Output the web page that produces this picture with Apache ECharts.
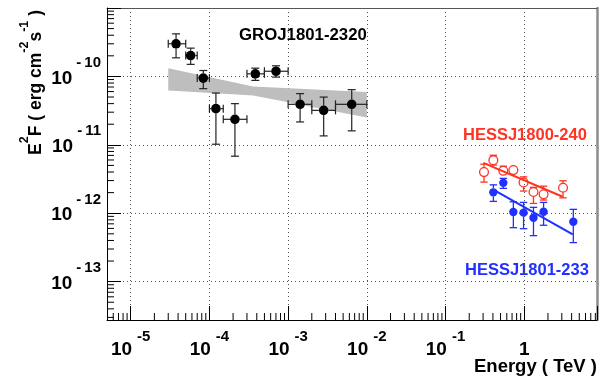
<!DOCTYPE html>
<html>
<head>
<meta charset="utf-8">
<script src="https://cdn.jsdelivr.net/npm/echarts@6/dist/echarts.min.js"></script>
<style>
  html, body { margin: 0; padding: 0; background: #fff; }
  #chart { width: 615px; height: 384px; }
</style>
</head>
<body>
<div id="chart"></div>
<script>
// ---- GRO J1801-2320 (EGRET), energies in TeV, E^2 F in erg cm^-2 s^-1 ----
const groE   = [3.77e-5, 5.78e-5, 8.36e-5, 1.21e-4, 2.11e-4, 3.83e-4, 7.02e-4, 1.42e-3, 2.83e-3, 6.43e-3];
const groElo = [3e-5, 5e-5, 7e-5, 1e-4, 1.5e-4, 3e-4, 5e-4, 1e-3, 2e-3, 4e-3];
const groEhi = [5e-5, 7e-5, 1e-4, 1.5e-4, 3e-4, 5e-4, 1e-3, 2e-3, 4e-3, 1e-2];
const groF   = [3.0e-10, 2.02e-10, 9.44e-11, 3.38e-11, 2.36e-11, 1.09e-10, 1.19e-10, 3.91e-11, 3.19e-11, 3.91e-11];
const groFlo = [1.87e-10, 1.50e-10, 6.62e-11, 1.02e-11, 6.82e-12, 8.75e-11, 9.77e-11, 2.16e-11, 1.35e-11, 1.60e-11];
const groFhi = [4.19e-10, 2.59e-10, 1.22e-10, 5.71e-11, 4.00e-11, 1.32e-10, 1.43e-10, 5.60e-11, 4.99e-11, 6.40e-11];

// power-law fit butterfly for the EGRET source
const bandE     = [3e-5, 3.6e-4, 1e-2];
const bandUpper = [1.32e-10, 7.14e-11, 5.9e-11];
const bandLower = [6.25e-11, 5.28e-11, 2.5e-11];

// ---- HESS J1800-240 ----
const h240E   = [0.308, 0.405, 0.542, 0.727, 0.98, 1.31, 1.76, 3.11];
const h240F   = [3.99e-12, 5.97e-12, 4.17e-12, 4.27e-12, 2.82e-12, 2.04e-12, 1.89e-12, 2.36e-12];
const h240Flo = [2.85e-12, 5.05e-12, 3.61e-12, 3.73e-12, 2.11e-12, 1.39e-12, 1.56e-12, 1.68e-12];
const h240Fhi = [5.21e-12, 7.05e-12, 4.88e-12, 4.88e-12, 3.40e-12, 2.39e-12, 2.49e-12, 2.98e-12];
const h240FitE = [0.302, 3.08];
const h240FitF = [5.45e-12, 1.74e-12];

// ---- HESS J1801-233 ----
const h233E   = [0.405, 0.542, 0.727, 0.98, 1.31, 1.76, 4.2];
const h233F   = [2.02e-12, 2.78e-12, 1.04e-12, 1.02e-12, 8.59e-13, 1.05e-12, 7.51e-13];
const h233Flo = [1.49e-12, 2.31e-12, 6.15e-13, 5.94e-13, 4.70e-13, 6.67e-13, 3.72e-13];
const h233Fhi = [2.60e-12, 3.23e-12, 1.47e-12, 1.44e-12, 1.22e-12, 1.44e-12, 1.14e-12];
const h233FitE = [0.414, 4.13];
const h233FitF = [2.18e-12, 4.92e-13];

// labelled decades
const xTickExp = [-5, -4, -3, -2, -1, 0];
const yTickExp = [-13, -12, -11, -10];

const X_MIN = 5e-6, X_MAX = 8.4, Y_MIN = 2.75e-14, Y_MAX = 1e-9;

const FONT = 'Liberation Sans, Arial, Helvetica, sans-serif';
const RED = '#ff3322';
const BLUE = '#1f30ff';

function decadeExp(v) {
  const l = Math.log10(v);
  const e = Math.round(l);
  return Math.abs(l - e) < 1e-6 ? e : null;
}

// bottom axis: 10 with a plain superscript exponent
function xLabel(v) {
  const e = decadeExp(v);
  if (e === null || xTickExp.indexOf(e) < 0) return '';
  return e === 0 ? '{b|1}' : '{b|10}{s|' + e + '}';
}

// left axis: the minus of the exponent sits a little apart from its digits
function yLabel(v) {
  const e = decadeExp(v);
  if (e === null || yTickExp.indexOf(e) < 0) return '';
  return '{b|10}{m|-}{s|' + Math.abs(e) + '}';
}

const xRich = {
  b: { fontFamily: FONT, fontWeight: 'bold', fontSize: 19, lineHeight: 42, color: '#000' },
  s: { fontFamily: FONT, fontWeight: 'bold', fontSize: 15, lineHeight: 15, padding: [0, 0, 27, 5], color: '#000' }
};
const yRich = {
  b: { fontFamily: FONT, fontWeight: 'bold', fontSize: 19, lineHeight: 42, padding: [4, 0, 0, 0], color: '#000' },
  m: { fontFamily: FONT, fontWeight: 'bold', fontSize: 15, lineHeight: 15, padding: [0, 3, 27, 4], color: '#000' },
  s: { fontFamily: FONT, fontWeight: 'bold', fontSize: 15, lineHeight: 15, padding: [0, 0, 27, 0], color: '#000' }
};

// minor tick positions (2..9 times each decade) inside the axis ranges
function minorTicks(lo, hi, n0, n1) {
  const out = [];
  for (let n = n0; n <= n1; n++) {
    for (let k = 2; k <= 9; k++) {
      const v = k * Math.pow(10, n);
      if (v > lo && v < hi) out.push(v);
    }
  }
  return out;
}
const xMinor = minorTicks(X_MIN, X_MAX, -6, 0);
const yMinor = minorTicks(Y_MIN, Y_MAX, -14, -10);

function seg(x1, y1, x2, y2, style) {
  return { type: 'line', shape: { x1, y1, x2, y2 }, style };
}

// error bars drawn with a gap around the marker, capped at both ends
function errorBars(color, width, gap, cap, withX) {
  return function (params, api) {
    const x = api.value(0), y = api.value(1);
    const c = api.coord([x, y]);
    const st = { stroke: color, lineWidth: width, fill: null };
    const kids = [];
    const yLo = api.coord([x, api.value(2)])[1];
    const yHi = api.coord([x, api.value(3)])[1];
    if (yHi < c[1] - gap) {
      kids.push(seg(c[0], c[1] - gap, c[0], yHi, st));
      kids.push(seg(c[0] - cap, yHi, c[0] + cap, yHi, st));
    }
    if (yLo > c[1] + gap) {
      kids.push(seg(c[0], c[1] + gap, c[0], yLo, st));
      kids.push(seg(c[0] - cap, yLo, c[0] + cap, yLo, st));
    }
    if (withX) {
      const xLo = api.coord([api.value(4), y])[0];
      const xHi = api.coord([api.value(5), y])[0];
      if (xLo < c[0] - gap) {
        kids.push(seg(c[0] - gap, c[1], xLo, c[1], st));
        kids.push(seg(xLo, c[1] - cap, xLo, c[1] + cap, st));
      }
      if (xHi > c[0] + gap) {
        kids.push(seg(c[0] + gap, c[1], xHi, c[1], st));
        kids.push(seg(xHi, c[1] - cap, xHi, c[1] + cap, st));
      }
    }
    return { type: 'group', children: kids };
  };
}

const groData  = groE.map((e, i) => [e, groF[i], groFlo[i], groFhi[i], groElo[i], groEhi[i]]);
const h240Data = h240E.map((e, i) => [e, h240F[i], h240Flo[i], h240Fhi[i]]);
const h233Data = h233E.map((e, i) => [e, h233F[i], h233Flo[i], h233Fhi[i]]);

const chart = echarts.init(document.getElementById('chart'), null, { renderer: 'canvas' });

const tickStyle = { color: '#000', width: 1 };

chart.setOption({
  animation: false,
  backgroundColor: '#fff',
  grid: { left: 107, right: 18, top: 8, bottom: 64, containLabel: false },
  xAxis: [{
    type: 'log', logBase: 10, min: X_MIN, max: X_MAX,
    axisLine: { show: true, lineStyle: { color: '#000', width: 1 } },
    axisTick: { show: true, inside: true, length: 14, lineStyle: tickStyle },
    minorTick: { show: false },
    splitLine: { show: true, lineStyle: { color: '#555', width: 1, type: [1, 3] } },
    axisLabel: {
      show: true, margin: 9, formatter: xLabel, rich: xRich,
      showMinLabel: true, showMaxLabel: true, hideOverlap: false
    }
  }, {
    type: 'log', logBase: 10, min: X_MIN, max: X_MAX, position: 'top',
    axisLine: { show: true, lineStyle: { color: '#555', width: 1 } },
    axisTick: { show: false }, axisLabel: { show: false }, splitLine: { show: false }
  }],
  yAxis: [{
    type: 'log', logBase: 10, min: Y_MIN, max: Y_MAX,
    axisLine: { show: true, lineStyle: { color: '#000', width: 1 } },
    axisTick: { show: true, inside: true, length: 14, lineStyle: tickStyle },
    minorTick: { show: false },
    splitLine: { show: true, lineStyle: { color: '#555', width: 1, type: [1, 3] } },
    axisLabel: {
      show: true, margin: 6, formatter: yLabel, rich: yRich,
      showMinLabel: true, showMaxLabel: true, hideOverlap: false
    }
  }, {
    type: 'log', logBase: 10, min: Y_MIN, max: Y_MAX, position: 'right',
    axisLine: { show: true, lineStyle: { color: '#8c8c8c', width: 2.5 } },
    axisTick: { show: false }, axisLabel: { show: false }, splitLine: { show: false }
  }],
  graphic: [
    {
      type: 'text', x: 36, y: 10, rotation: Math.PI / 2,
      style: {
        text: 'E{s|2}F ( erg cm{s|-2}s{s|-1} )',
        fontFamily: FONT, fontWeight: 'bold', fontSize: 17.5, lineHeight: 34, fill: '#000',
        align: 'right', verticalAlign: 'middle',
        rich: { s: { fontFamily: FONT, fontWeight: 'bold', fontSize: 12.5, lineHeight: 12, padding: [0, 0, 22, 0], fill: '#000' } }
      }
    },
    {
      type: 'text', x: 597, y: 367,
      style: { text: 'Energy ( TeV )', fontFamily: FONT, fontWeight: 'bold', fontSize: 18.5, fill: '#000', align: 'right', verticalAlign: 'middle' }
    },
    {
      type: 'text', x: 239, y: 35.5,
      style: { text: 'GROJ1801-2320', fontFamily: FONT, fontWeight: 'bold', fontSize: 16.8, fill: '#000', align: 'left', verticalAlign: 'middle' }
    },
    {
      type: 'text', x: 463, y: 135.5,
      style: { text: 'HESSJ1800-240', fontFamily: FONT, fontWeight: 'bold', fontSize: 16.5, fill: RED, align: 'left', verticalAlign: 'middle' }
    },
    {
      type: 'text', x: 465, y: 270.5,
      style: { text: 'HESSJ1801-233', fontFamily: FONT, fontWeight: 'bold', fontSize: 16.5, fill: BLUE, align: 'left', verticalAlign: 'middle' }
    }
  ],
  series: [
    // minor ticks on the bottom axis
    {
      type: 'custom', silent: true, clip: false, z: 5,
      data: xMinor.map(v => [v, Y_MIN]), encode: { x: 0, y: 1 },
      renderItem: function (params, api) {
        const p = api.coord([api.value(0), api.value(1)]);
        return seg(p[0], p[1], p[0], p[1] - 7, { stroke: '#000', lineWidth: 1 });
      }
    },
    // minor ticks on the left axis
    {
      type: 'custom', silent: true, clip: false, z: 5,
      data: yMinor.map(v => [X_MIN, v]), encode: { x: 0, y: 1 },
      renderItem: function (params, api) {
        const p = api.coord([api.value(0), api.value(1)]);
        return seg(p[0], p[1], p[0] + 7, p[1], { stroke: '#000', lineWidth: 1 });
      }
    },
    // butterfly band
    {
      type: 'custom', silent: true, z: 1,
      data: [[bandE[0], bandUpper[0]]], encode: { x: 0, y: 1 },
      renderItem: function (params, api) {
        const pts = [];
        for (let i = 0; i < bandE.length; i++) pts.push(api.coord([bandE[i], bandUpper[i]]));
        for (let i = bandE.length - 1; i >= 0; i--) pts.push(api.coord([bandE[i], bandLower[i]]));
        return { type: 'polygon', shape: { points: pts }, style: { fill: '#bebebe', stroke: null } };
      }
    },
    // GRO error bars and points
    {
      type: 'custom', silent: true, z: 3, data: groData, encode: { x: 0, y: 1 },
      renderItem: errorBars('#222', 1.2, 4.8, 4, true)
    },
    {
      type: 'scatter', z: 4, data: groData.map(d => [d[0], d[1]]),
      symbol: 'circle', symbolSize: 9.6, itemStyle: { color: '#000', opacity: 1 }
    },
    // HESS J1800-240
    {
      type: 'line', z: 3, data: h240FitE.map((e, i) => [e, h240FitF[i]]),
      showSymbol: false, symbol: 'none', lineStyle: { color: RED, width: 2 }
    },
    {
      type: 'custom', silent: true, z: 3, data: h240Data, encode: { x: 0, y: 1 },
      renderItem: errorBars(RED, 1.3, 4.4, 3.7, false)
    },
    {
      type: 'scatter', z: 4, data: h240Data.map(d => [d[0], d[1]]),
      symbol: 'circle', symbolSize: 8.8,
      itemStyle: { color: 'rgba(255,255,255,0)', borderColor: RED, borderWidth: 1.3, opacity: 1 }
    },
    // HESS J1801-233
    {
      type: 'line', z: 3, data: h233FitE.map((e, i) => [e, h233FitF[i]]),
      showSymbol: false, symbol: 'none', lineStyle: { color: BLUE, width: 2 }
    },
    {
      type: 'custom', silent: true, z: 3, data: h233Data, encode: { x: 0, y: 1 },
      renderItem: errorBars(BLUE, 1.3, 4, 3.7, false)
    },
    {
      type: 'scatter', z: 4, data: h233Data.map(d => [d[0], d[1]]),
      symbol: 'circle', symbolSize: 8.4, itemStyle: { color: BLUE, opacity: 1 }
    }
  ]
});
</script>
</body>
</html>
